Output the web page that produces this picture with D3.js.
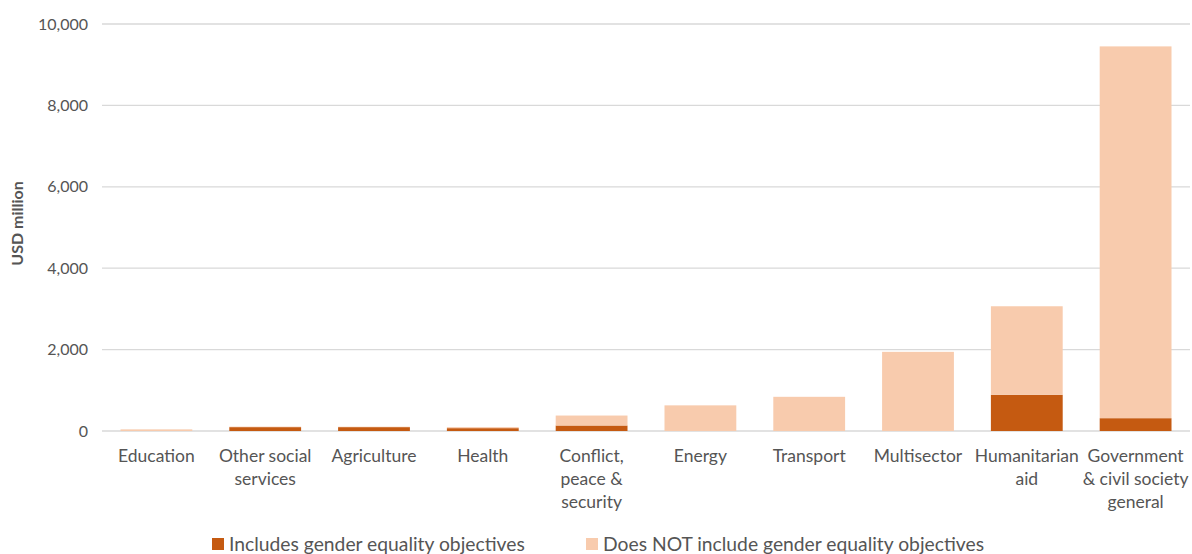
<!DOCTYPE html>
<html>
<head>
<meta charset="utf-8">
<script src="https://cdn.jsdelivr.net/npm/d3@7"></script>
<style>
  body { margin: 0; background: #fff; }
  svg { font-family: Lato, "Open Sans", sans-serif; }
</style>
</head>
<body>
<svg width="1192" height="554"></svg>
<script>
// chart data
var categories = ["Education", "Other social|services", "Agriculture", "Health", "Conflict,|peace &|security",
    "Energy", "Transport", "Multisector", "Humanitarian|aid", "Government|& civil society|general"];
var includesGE = [0, 95, 95, 70, 135, 0, 0, 0, 890, 315];
var notGE = [40, 12, 10, 25, 245, 630, 840, 1945, 2175, 9135];
var yTicks = [0, 2000, 4000, 6000, 8000, 10000];
var seriesNames = ["Includes gender equality objectives", "Does NOT include gender equality objectives"];
var colors = ["#c55a11", "#f8cbad"];

var svg = d3.select("svg");
var margin = { top: 24, right: 2, bottom: 123, left: 102 },
    width = +svg.attr("width") - margin.left - margin.right,
    height = +svg.attr("height") - margin.top - margin.bottom;

var g = svg.append("g")
    .attr("transform", `translate(${margin.left}, ${margin.top})`);

var x = d3.scaleBand()
    .domain(categories)
    .range([0, width])
    .paddingInner(0.34)
    .paddingOuter(0.17);

var y = d3.scaleLinear()
    .domain([0, 10000])
    .range([height, 0]);

// gridlines
g.append("g")
    .selectAll("line")
    .data(yTicks)
    .enter().append("line")
        .attr("x1", 0)
        .attr("x2", width)
        .attr("y1", d => y(d))
        .attr("y2", d => y(d))
        .attr("stroke", "#d9d9d9")
        .attr("stroke-width", 1.3);

// y axis labels
var yAxis = d3.axisLeft(y)
    .tickValues(yTicks)
    .tickFormat(d3.format(","))
    .tickSize(0)
    .tickPadding(14);

g.append("g")
    .call(yAxis)
    .call(a => a.select(".domain").remove())
    .selectAll("text")
        .attr("fill", "#555")
        .attr("font-size", 16)
        .attr("font-family", "Lato, sans-serif");

g.append("text")
    .attr("transform", `translate(${-79}, ${height / 2 - 4}) rotate(-90)`)
    .attr("text-anchor", "middle")
    .attr("fill", "#555")
    .attr("font-size", 16)
    .attr("font-weight", "bold")
    .text("USD million");

// stacked bars
var rows = categories.map((c, i) => ({ cat: c, inc: includesGE[i], not: notGE[i] }));
var keys = ["inc", "not"];
var stack = d3.stack().keys(keys)(rows);

g.append("g")
    .selectAll("g")
    .data(stack)
    .enter().append("g")
        .attr("fill", (d, i) => colors[i])
    .selectAll("rect")
    .data(d => d)
    .enter().append("rect")
        .attr("x", d => x(d.data.cat))
        .attr("y", d => y(d[1]))
        .attr("height", d => y(d[0]) - y(d[1]))
        .attr("width", x.bandwidth());

// category labels
var labels = g.append("g")
    .selectAll("text")
    .data(categories)
    .enter().append("text")
        .attr("x", d => x(d) + x.bandwidth() / 2)
        .attr("y", height + 31)
        .attr("text-anchor", "middle")
        .attr("fill", "#555")
        .attr("font-size", 17.5);

labels.selectAll("tspan")
    .data(d => d.split("|"))
    .enter().append("tspan")
        .attr("x", function() { return d3.select(this.parentNode).attr("x"); })
        .attr("dy", (d, i) => i === 0 ? 0 : 23)
        .text(d => d);

// legend
var legendX = [212, 586];
var legend = svg.append("g")
    .selectAll("g")
    .data(seriesNames)
    .enter().append("g")
        .attr("transform", (d, i) => `translate(${legendX[i]}, 544)`);

legend.append("rect")
    .attr("x", 0)
    .attr("y", -6)
    .attr("width", 12)
    .attr("height", 12)
    .attr("fill", (d, i) => colors[i]);

legend.append("text")
    .attr("x", 17)
    .attr("y", 0)
    .attr("dy", "0.35em")
    .attr("fill", "#555")
    .attr("font-size", 19.3)
    .text(d => d);
</script>
</body>
</html>
